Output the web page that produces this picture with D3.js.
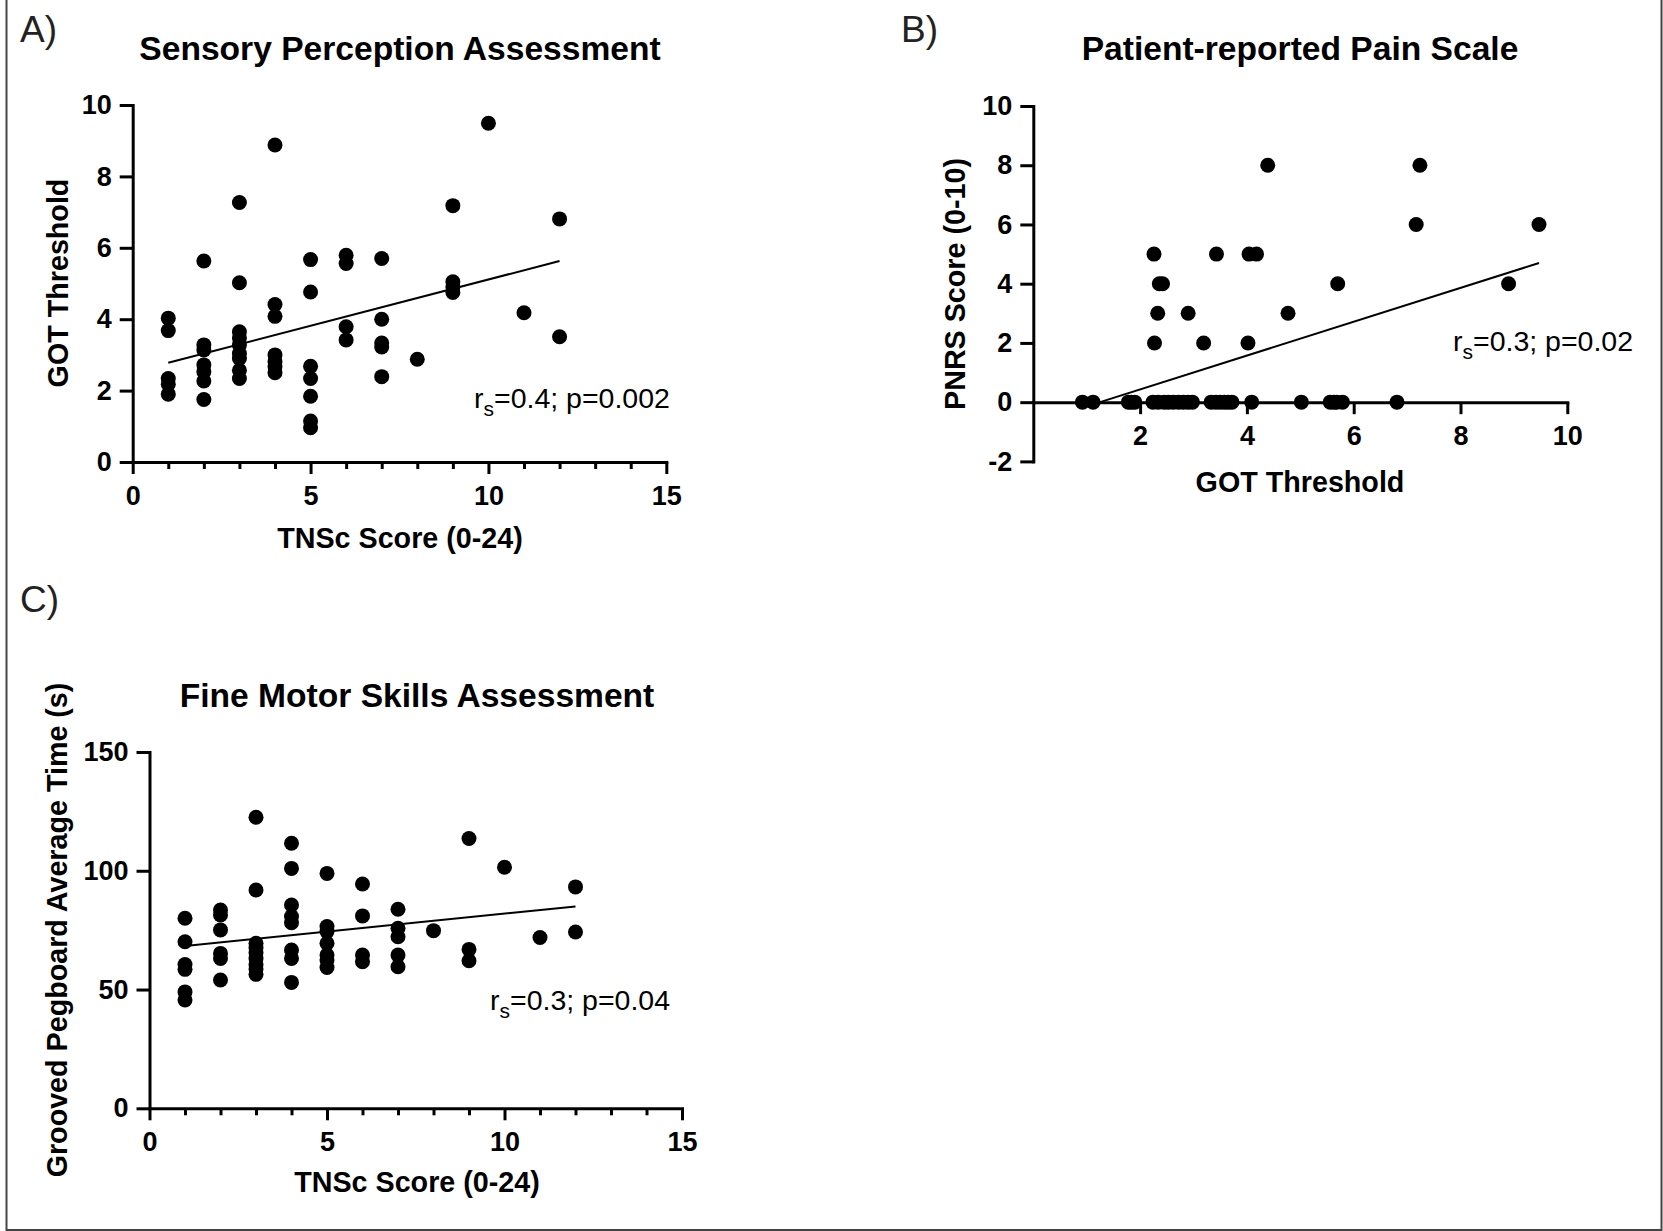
<!DOCTYPE html>
<html>
<head>
<meta charset="utf-8">
<script src="https://cdn.jsdelivr.net/npm/d3@7"></script>
<style>
  html, body { margin: 0; padding: 0; background: #fff; }
  svg { display: block; }
  text { font-family: "Liberation Sans", Arial, Helvetica, sans-serif; }
</style>
</head>
<body>
<svg id="fig" width="1663" height="1231"></svg>
<script>
// ---------- Panel A: Sensory Perception Assessment ----------
const tnscA = [1,1,1,1,1, 2,2,2,2,2,2,2, 3,3,3,3,3,3,3,3,3, 4,4,4,4,4,4,4,
               5,5,5,5,5,5,5, 6,6,6,6, 7,7,7,7,7, 8, 9,9,9,9, 10, 11, 12,12];
const gotA  = [4.03,3.68,2.34,2.18,1.90,
               5.63,3.28,3.14,2.72,2.53,2.27,1.75,
               7.27,5.02,3.65,3.47,3.28,3.04,2.90,2.57,2.34,
               8.88,4.41,4.08,3.00,2.81,2.67,2.50,
               5.67,4.76,2.68,2.34,1.84,1.15,0.96,
               5.79,5.56,3.79,3.42,
               5.70,4.00,3.33,3.22,2.39,
               2.88,
               7.18,5.05,4.90,4.75,
               9.49,
               4.18,
               6.81,3.51];
const fitA_x = [1, 12];
const fitA_y = [2.78, 5.63];
const xTicksA = [0, 5, 10, 15];
const yTicksA = [0, 2, 4, 6, 8, 10];

// ---------- Panel B: Patient-reported Pain Scale ----------
const gotB  = [2.26,2.36,2.42,2.33,2.27,2.90,3.19,3.43,4.04,4.18,4.02,4.39,4.77,5.70,7.17,7.24,8.90,9.47,
               0.92,1.12,1.78,1.84,1.90,2.24,2.34,2.45,2.53,2.62,2.72,2.81,2.90,2.98,
               3.33,3.42,3.50,3.58,3.65,3.72,4.09,5.02,5.56,5.63,5.68,5.79,6.81];
const pnrsB = [5,4,4,3,2,3,2,5,5,5,2,8,3,4,6,8,4,6,
               0,0,0,0,0,0,0,0,0,0,0,0,0,0,
               0,0,0,0,0,0,0,0,0,0,0,0,0];
const fitB_x = [1.25, 9.47];
const fitB_y = [0, 4.70];
const xTicksB = [2, 4, 6, 8, 10];
const yTicksB = [-2, 0, 2, 4, 6, 8, 10];

// ---------- Panel C: Fine Motor Skills Assessment ----------
const tnscC = [1,1,1,1,1,1, 2,2,2,2,2,2, 3,3,3,3,3,3,3,3,3, 4,4,4,4,4,4,4,4,
               5,5,5,5,5,5,5, 6,6,6,6, 7,7,7,7,7, 8, 9,9,9, 10, 11, 12,12];
const pegC  = [80.0,70.1,60.5,58.5,49.0,45.6,
               83.5,81.4,75.1,65.2,63.1,54.0,
               122.5,91.9,69.5,67.6,65.5,63.0,60.4,58.6,56.4,
               111.6,101.0,85.6,80.7,78.1,66.6,63.1,53.0,
               98.9,76.5,74.4,69.5,64.5,62.4,59.3,
               94.4,81.0,64.5,61.7,
               83.8,75.8,72.2,64.5,59.6,
               74.8,
               113.6,66.9,62.1,
               101.5,
               71.9,
               93.2,74.2];
const fitC_x = [1, 12];
const fitC_y = [68.3, 85.0];
const xTicksC = [0, 5, 10, 15];
const yTicksC = [0, 50, 100, 150];

// ---------- drawing ----------
const svg = d3.select("#fig");
const FONT = '"Liberation Sans", Arial, Helvetica, sans-serif';

// figure frame (left, right, bottom)
svg.append("path")
  .attr("d", "M6.5,0 V1230 H1661.5 V0")
  .attr("fill", "none").attr("stroke", "#444").attr("stroke-width", 2);

function styleAxis(g) {
  g.attr("font-family", FONT).attr("font-size", 27).attr("font-weight", "bold");
  g.selectAll("path.domain").attr("stroke", "#000").attr("stroke-width", 3).attr("stroke-linecap", "square");
  g.selectAll(".tick line").attr("stroke", "#000").attr("stroke-width", 3);
  g.selectAll(".tick text").attr("fill", "#000");
}

const plainFmt = d => String(d);

function panel(cfg) {
  const g = svg.append("g");
  const x = d3.scaleLinear().domain(cfg.xDomain).range(cfg.xRange);
  const y = d3.scaleLinear().domain(cfg.yDomain).range(cfg.yRange);
  const xAxisY = y(cfg.xAxisAt);

  // minor x ticks
  if (cfg.minorX) {
    const gm = g.append("g").attr("transform", `translate(0,${xAxisY})`)
      .call(d3.axisBottom(x).tickValues(cfg.minorX).tickSize(7).tickSizeOuter(0).tickFormat(""));
    gm.select("path.domain").remove();
    styleAxis(gm);
  }
  // x axis
  const gx = g.append("g").attr("transform", `translate(0,${xAxisY})`)
    .call(d3.axisBottom(x).tickValues(cfg.xTicks).tickFormat(plainFmt)
      .tickSize(12).tickSizeOuter(0).tickPadding(12));
  styleAxis(gx);
  // y axis
  const gy = g.append("g").attr("transform", `translate(${x(cfg.xDomain[0])},0)`)
    .call(d3.axisLeft(y).tickValues(cfg.yTicks).tickFormat(plainFmt)
      .tickSize(13).tickSizeOuter(0).tickPadding(8));
  styleAxis(gy);

  // regression line
  g.append("line")
    .attr("x1", x(cfg.fitX[0])).attr("y1", y(cfg.fitY[0]))
    .attr("x2", x(cfg.fitX[1])).attr("y2", y(cfg.fitY[1]))
    .attr("stroke", "#000").attr("stroke-width", 2);

  // points
  g.append("g").selectAll("circle")
    .data(cfg.xs.map((v, i) => [v, cfg.ys[i]]))
    .join("circle")
    .attr("cx", d => x(d[0])).attr("cy", d => y(d[1]))
    .attr("r", 7.5).attr("fill", "#000");

  // title
  g.append("text").attr("x", cfg.titlePos[0]).attr("y", cfg.titlePos[1])
    .attr("text-anchor", "middle").attr("font-size", 33.6).attr("font-weight", "bold")
    .attr("fill", "#000").text(cfg.title);
  // panel letter
  g.append("text").attr("x", cfg.letterPos[0]).attr("y", cfg.letterPos[1])
    .attr("font-size", 37).attr("fill", "#222").text(cfg.letter);
  // x title
  g.append("text").attr("x", cfg.xTitlePos[0]).attr("y", cfg.xTitlePos[1])
    .attr("text-anchor", "middle").attr("font-size", 28.7).attr("font-weight", "bold")
    .attr("fill", "#000").text(cfg.xTitle);
  // y title
  g.append("text")
    .attr("transform", `translate(${cfg.yTitlePos[0]},${cfg.yTitlePos[1]}) rotate(-90)`)
    .attr("text-anchor", "middle").attr("font-size", 28.7).attr("font-weight", "bold")
    .attr("fill", "#000").text(cfg.yTitle);
  // annotation
  const t = g.append("text").attr("x", cfg.annPos[0]).attr("y", cfg.annPos[1])
    .attr("font-size", 28.5).attr("fill", "#000");
  t.append("tspan").text("r");
  t.append("tspan").attr("font-size", 21).attr("dy", 8).text("s");
  t.append("tspan").attr("dy", -8).text(cfg.ann);
}

panel({
  letter: "A)", letterPos: [20, 42],
  title: "Sensory Perception Assessment", titlePos: [400, 60],
  xTitle: "TNSc Score (0-24)", xTitlePos: [400, 548],
  yTitle: "GOT Threshold", yTitlePos: [68, 283],
  ann: "=0.4; p=0.002", annPos: [474, 408],
  xDomain: [0, 15], xRange: [132.7, 666.3],
  yDomain: [0, 10], yRange: [462, 105],
  xAxisAt: 0, xTicks: xTicksA, yTicks: yTicksA,
  minorX: d3.range(1, 15).filter(v => v % 5 !== 0),
  xs: tnscA, ys: gotA, fitX: fitA_x, fitY: fitA_y
});

panel({
  letter: "B)", letterPos: [901, 42],
  title: "Patient-reported Pain Scale", titlePos: [1300, 60],
  xTitle: "GOT Threshold", xTitlePos: [1300, 492],
  yTitle: "PNRS Score (0-10)", yTitlePos: [965, 284],
  ann: "=0.3; p=0.02", annPos: [1453, 351],
  xDomain: [0, 10], xRange: [1033.3, 1567.3],
  yDomain: [-2, 10], yRange: [461.4, 106],
  xAxisAt: 0, xTicks: xTicksB, yTicks: yTicksB,
  minorX: null,
  xs: gotB, ys: pnrsB, fitX: fitB_x, fitY: fitB_y
});

panel({
  letter: "C)", letterPos: [20, 612],
  title: "Fine Motor Skills Assessment", titlePos: [417, 707],
  xTitle: "TNSc Score (0-24)", xTitlePos: [417, 1192],
  yTitle: "Grooved Pegboard Average Time (s)", yTitlePos: [67, 930],
  ann: "=0.3; p=0.04", annPos: [490, 1010],
  xDomain: [0, 15], xRange: [149.5, 682],
  yDomain: [0, 150], yRange: [1108.3, 752],
  xAxisAt: 0, xTicks: xTicksC, yTicks: yTicksC,
  minorX: d3.range(1, 15).filter(v => v % 5 !== 0),
  xs: tnscC, ys: pegC, fitX: fitC_x, fitY: fitC_y
});
</script>
</body>
</html>
